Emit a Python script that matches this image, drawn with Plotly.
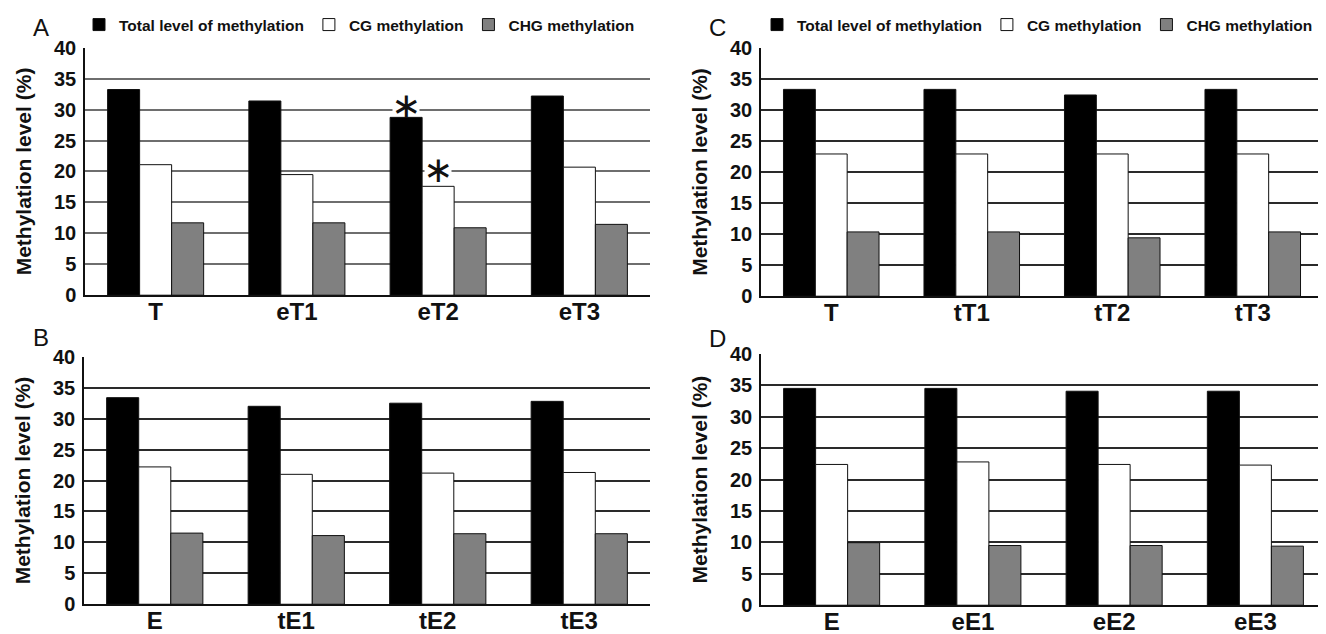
import plotly.graph_objects as go

series_names = ["Total level of methylation", "CG methylation", "CHG methylation"]

cats_A = ["T", "eT1", "eT2", "eT3"]
total_A = [33.25, 31.4, 28.75, 32.2]
cg_A = [21.1, 19.5, 17.6, 20.7]
chg_A = [11.7, 11.7, 10.9, 11.45]

cats_B = ["E", "tE1", "tE2", "tE3"]
total_B = [33.4, 32.0, 32.5, 32.8]
cg_B = [22.2, 21.0, 21.2, 21.3]
chg_B = [11.5, 11.1, 11.4, 11.4]

cats_C = ["T", "tT1", "tT2", "tT3"]
total_C = [33.3, 33.3, 32.4, 33.3]
cg_C = [22.9, 22.9, 22.9, 22.9]
chg_C = [10.35, 10.35, 9.4, 10.35]

cats_D = ["E", "eE1", "eE2", "eE3"]
total_D = [34.5, 34.5, 34.05, 34.05]
cg_D = [22.4, 22.8, 22.4, 22.3]
chg_D = [9.95, 9.5, 9.5, 9.4]

# significance marks: (panel, category index, series index, y of asterisk, gridline it breaks)
sig_marks = [("A", 2, 0, 30.6, 30), ("A", 2, 1, 20.4, 20)]

yticks = [0, 5, 10, 15, 20, 25, 30, 35, 40]

fills = ["#000000", "#ffffff", "#808080"]
FONT = "Liberation Sans, Arial, sans-serif"
W, H = 1326, 634
OFF = 8  # page body margin offset


def fx(px):
    return (px - OFF) / W


def fy(py):
    return 1 - (py - OFF) / H


panels = {
    "A": dict(cats=cats_A, vals=[total_A, cg_A, chg_A], xa="x", ya="y",
              px=(85, 650), py=(44, 293), grid="#6e6e6e", legend="legend"),
    "B": dict(cats=cats_B, vals=[total_B, cg_B, chg_B], xa="x2", ya="y2",
              px=(84, 650), py=(355, 604), grid="#2a2a2a", legend=None),
    "C": dict(cats=cats_C, vals=[total_C, cg_C, chg_C], xa="x3", ya="y3",
              px=(761, 1323), py=(44, 294), grid="#2a2a2a", legend="legend2"),
    "D": dict(cats=cats_D, vals=[total_D, cg_D, chg_D], xa="x4", ya="y4",
              px=(761, 1326), py=(352, 605), grid="#2a2a2a", legend=None),
}

fig = go.Figure()
layout = {}
for key, p in panels.items():
    for i in range(3):
        fig.add_trace(go.Bar(
            x=p["cats"], y=p["vals"][i], name=series_names[i],
            xaxis=p["xa"], yaxis=p["ya"],
            marker=dict(color=fills[i], line=dict(color="#111111", width=1)),
            showlegend=p["legend"] is not None,
            legend=p["legend"] if p["legend"] else "legend",
        ))
    xname = "xaxis" + p["xa"][1:]
    yname = "yaxis" + p["ya"][1:]
    layout[xname] = dict(
        domain=[fx(p["px"][0]), fx(p["px"][1])], anchor=p["ya"], automargin=False,
        range=[-0.5, 3.5], showline=True, linecolor="#111111", linewidth=1.5,
        showgrid=False, ticks="", ticklabelstandoff=-6,
        tickfont=dict(family=FONT, size=24, color="#111111", weight="bold"),
    )
    layout[yname] = dict(
        domain=[fy(p["py"][1]), fy(p["py"][0])], anchor=p["xa"], automargin=False,
        range=[0, 40], tickvals=yticks, showline=True, linecolor="#111111",
        linewidth=1.5, showgrid=True, gridcolor=p["grid"], gridwidth=1.5,
        zeroline=False, ticks="", ticklabelstandoff=3,
        tickfont=dict(family=FONT, size=20, color="#111111", weight="bold"),
        title=dict(text="Methylation level (%)", standoff=17,
                   font=dict(family=FONT, size=21, color="#111111", weight="bold")),
    )

annotations = []
letter_pos = {"A": (41, 24), "B": (41, 336), "C": (717, 24), "D": (717, 337)}
for k, (lx, ly) in letter_pos.items():
    annotations.append(dict(x=fx(lx), y=fy(ly), xref="paper", yref="paper",
                            text=k, showarrow=False, xanchor="center", yanchor="middle",
                            font=dict(family=FONT, size=24, color="#111111")))

bargap = 0.32
bw = (1 - bargap) / 3
for (pk, ci, si, yv, gl) in sig_marks:
    p = panels[pk]
    xv = ci + (si - 1) * bw
    annotations.append(dict(x=xv, y=gl, xref=p["xa"], yref=p["ya"], text=" ",
                            showarrow=False, width=26, height=5, bgcolor="#ffffff",
                            xanchor="center", yanchor="middle", borderpad=0))
    annotations.append(dict(x=xv, y=yv, xref=p["xa"], yref=p["ya"], text="∗",
                            showarrow=False, xanchor="center", yanchor="middle",
                            font=dict(family="DejaVu Sans", size=36, color="#111111")))

legend_common = dict(orientation="h", xanchor="left", yanchor="middle",
                     font=dict(family=FONT, size=15.5, color="#111111", weight="bold"),
                     itemwidth=30, bgcolor="rgba(0,0,0,0)", tracegroupgap=0,
                     itemclick=False)
fig.update_layout(
    width=W, height=H, margin=dict(l=0, r=0, t=0, b=0),
    paper_bgcolor="#ffffff", plot_bgcolor="#ffffff",
    barmode="group", bargap=bargap, bargroupgap=0,
    legend=dict(x=fx(79), y=fy(21), **legend_common),
    legend2=dict(x=fx(757), y=fy(21), **legend_common),
    annotations=annotations,
    **layout,
)
fig.write_html("out.html")
